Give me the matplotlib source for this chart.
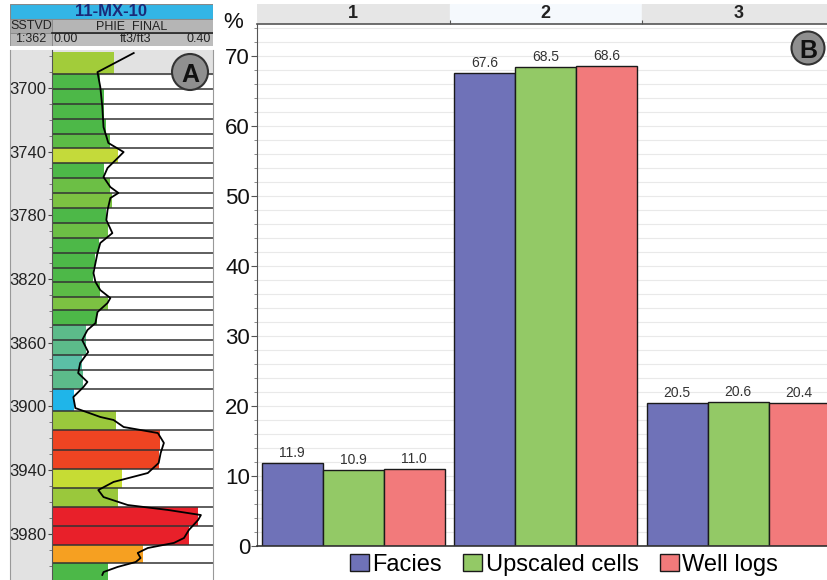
import numpy as np
import matplotlib
matplotlib.use("Agg")
import matplotlib.pyplot as plt
from matplotlib.patches import Rectangle, Ellipse
from matplotlib.ticker import MultipleLocator

plt.rcParams['font.family'] = ['Liberation Sans', 'DejaVu Sans']

# ---- well log (panel A) ----
well_name = "11-MX-10"
curve_name = "PHIE_FINAL"
depth_scale = "1:362"
phi_min, phi_max = 0.0, 0.40

# layer boundaries (ft, SSTVD) and upscaled porosity per layer
layer_tops = [3677.4, 3691.2, 3700.6, 3710.0, 3719.5, 3728.9, 3737.7, 3747.1,
              3756.5, 3765.9, 3775.4, 3784.8, 3794.2, 3803.6, 3813.0, 3821.8,
              3831.3, 3839.4, 3848.8, 3858.3, 3867.7, 3877.1, 3889.0, 3903.0,
              3914.8, 3927.3, 3939.3, 3951.2, 3963.1, 3975.1, 3987.0, 3998.3]
layer_base = 4009.0
layer_phi = [0.155, 0.120, 0.128, 0.130, 0.135, 0.145, 0.163, 0.128,
             0.145, 0.148, 0.133, 0.138, 0.118, 0.108, 0.103, 0.120,
             0.138, 0.113, 0.085, 0.085, 0.075, 0.078, 0.055, 0.158,
             0.268, 0.265, 0.175, 0.163, 0.363, 0.340, 0.225, 0.138]
layer_colors = ['#a2cc3a', '#4db848', '#4db848', '#4db848', '#4db848', '#5cbb46',
                '#c4da3a', '#4db848', '#6cbf45', '#7cc242', '#4db848', '#6cbf45',
                '#4db848', '#4db848', '#4db848', '#5cbb46', '#7cc242', '#4db848',
                '#5cbb8a', '#5cbb8a', '#5bbfa6', '#5cbb8a', '#1fb5e9', '#9ac83c',
                '#ee4422', '#ee4422', '#c6dc34', '#9ac83c', '#e8202a', '#e8202a',
                '#f6a021', '#4cb848']

# PHIE_FINAL log curve
log_depth = [3678.0, 3690.0, 3699.4, 3711.9, 3724.5, 3734.5, 3740.2, 3744.0,
             3750.2, 3755.9, 3762.2, 3765.9, 3769.1, 3776.6, 3782.9, 3791.1,
             3797.3, 3803.6, 3816.2, 3821.8, 3826.9, 3831.9, 3835.0, 3840.7,
             3847.6, 3852.0, 3858.3, 3865.8, 3872.7, 3879.0, 3884.6, 3887.8,
             3894.1, 3901.0, 3906.6, 3908.5, 3912.9, 3916.7, 3922.9, 3929.2,
             3935.5, 3941.8, 3947.4, 3952.5, 3956.9, 3961.9, 3965.0, 3968.2,
             3971.3, 3977.6, 3982.6, 3985.7, 3988.9, 3992.0, 3995.2, 3997.7,
             4000.8, 4004.0, 4005.8]
log_phi = [0.203, 0.113, 0.120, 0.125, 0.128, 0.140, 0.178, 0.163,
           0.138, 0.128, 0.145, 0.165, 0.145, 0.138, 0.135, 0.150,
           0.120, 0.113, 0.103, 0.108, 0.120, 0.145, 0.138, 0.113,
           0.108, 0.088, 0.075, 0.090, 0.070, 0.065, 0.088, 0.078,
           0.053, 0.058, 0.120, 0.153, 0.178, 0.263, 0.278, 0.270,
           0.265, 0.238, 0.153, 0.115, 0.128, 0.188, 0.288, 0.370,
           0.363, 0.340, 0.328, 0.303, 0.238, 0.213, 0.220, 0.208,
           0.163, 0.128, 0.125]

depth_labels = [3700, 3740, 3780, 3820, 3860, 3900, 3940, 3980]

# ---- facies proportions (panel B) ----
categories = ["1", "2", "3"]
facies = [11.9, 67.6, 20.5]
upscaled = [10.9, 68.5, 20.6]
well_logs = [11.0, 68.6, 20.4]
series_names = ["Facies", "Upscaled cells", "Well logs"]
series_colors = ['#6f72b8', '#93c966', '#f27a7b']

W, H = 827, 580
fig = plt.figure(figsize=(W / 100, H / 100), dpi=100)


def box(x0, y0, x1, y1):
    return [x0 / W, 1 - y1 / H, (x1 - x0) / W, (y1 - y0) / H]


# header of the log track
hdr = fig.add_axes(box(10, 4, 213, 46))
hdr.set_xlim(10, 213)
hdr.set_ylim(46, 4)
hdr.axis('off')
hdr.add_patch(Rectangle((10, 4), 203, 15, fc='#33b5e6', ec='#888', lw=0.8))
hdr.add_patch(Rectangle((10, 19), 42, 14, fc='#a9a9a9', ec='#888', lw=0.6))
hdr.add_patch(Rectangle((52, 19), 161, 14, fc='#b5b5b5', ec='#888', lw=0.6))
hdr.add_patch(Rectangle((10, 33), 42, 13, fc='#b8b8b8', ec='#888', lw=0.6))
hdr.add_patch(Rectangle((52, 33), 161, 13, fc='#bdbdbd', ec='#888', lw=0.6))
hdr.plot([52, 213], [33, 33], color='#222', lw=1.2)
hdr.text(111.5, 11.5, well_name, ha='center', va='center', fontsize=12,
         fontweight='bold', color='#1b2a78')
hdr.text(31, 26, "SSTVD", ha='center', va='center', fontsize=9, color='#222')
hdr.text(132, 26, curve_name, ha='center', va='center', fontsize=9, color='#222')
hdr.text(31, 39.5, depth_scale, ha='center', va='center', fontsize=9, color='#222')
hdr.text(54, 39.5, f"{phi_min:.2f}", ha='left', va='center', fontsize=9, color='#222')
hdr.text(136, 39.5, "ft3/ft3", ha='center', va='center', fontsize=9, color='#222')
hdr.text(211, 39.5, f"{phi_max:.2f}", ha='right', va='center', fontsize=9, color='#222')

# depth column
dax = fig.add_axes(box(10, 50, 52, 580))
dax.set_facecolor('#e2e2e2')
dax.set_xticks([])
dax.set_yticks([])
for s in dax.spines.values():
    s.set_visible(False)
dax.spines['left'].set_visible(True)
dax.spines['left'].set_color('#999')

# log track
tax = fig.add_axes(box(52, 50, 213, 580))
tops = np.array(layer_tops)
bases = np.append(tops[1:], layer_base)
tax.set_xlim(phi_min, phi_max)
tax.set_ylim(layer_base, 3676.1)
tax.axhspan(3676.1, tops[1], color='#e2e2e2', zorder=0)
tax.barh((tops + bases) / 2, layer_phi, height=bases - tops, left=0,
         color=layer_colors, edgecolor='none', zorder=1)
for d in tops[1:]:
    tax.axhline(d, color='#333', lw=1.1, zorder=2)
tax.plot(log_phi, log_depth, color='black', lw=1.3, zorder=3)
tax.set_xticks([])
tax.set_yticks(depth_labels)
tax.yaxis.set_minor_locator(MultipleLocator(10))
tax.tick_params(axis='y', which='major', labelsize=12, length=3, pad=1,
                color='#444', labelcolor='#222')
tax.tick_params(axis='y', which='minor', length=2, color='#666')
for s in ['top', 'bottom']:
    tax.spines[s].set_visible(False)
tax.spines['left'].set_color('#555')
tax.spines['right'].set_color('#999')

# bar chart
x = np.arange(len(categories))
bw = 61 / 192.5
bax = fig.add_axes(box(257, 24, 834.5, 546))
bars = []
for i, (vals, col) in enumerate(zip([facies, upscaled, well_logs], series_colors)):
    b = bax.bar(x + (i - 1) * bw, vals, width=bw, color=col, edgecolor='#1a1a1a',
                lw=1.0, label=series_names[i], zorder=2)
    bax.bar_label(b, fmt='%.1f', padding=2, fontsize=10, color='#333')
    bars.append(b)
bax.set_xlim(-0.5, 2.5)
bax.set_ylim(0, 74.6)
bax.set_xticks([])
bax.yaxis.set_major_locator(MultipleLocator(10))
bax.yaxis.set_minor_locator(MultipleLocator(2))
bax.grid(which='both', axis='y', color='#e9e9e9', lw=0.8, zorder=0)
bax.set_axisbelow(True)
bax.tick_params(axis='y', which='major', labelsize=16, length=4, pad=1,
                color='#555', labelcolor='#111')
bax.tick_params(axis='y', which='minor', length=2.5, color='#777')
bax.spines['top'].set_visible(False)
bax.spines['right'].set_visible(False)
bax.spines['left'].set_color('#555')
bax.spines['bottom'].set_color('#333')
bax.spines['bottom'].set_linewidth(1.2)

# category strip above the bars
sax = fig.add_axes(box(257, 4, 834.5, 24))
sax.set_xlim(-0.5, 2.5)
sax.set_ylim(0, 1)
strip_colors = ['#e6e6e6', '#f5f9fd', '#e6e6e6']
for xi, cat, sc in zip(x, categories, strip_colors):
    sax.axvspan(xi - 0.5, xi + 0.5, color=sc, zorder=0)
    sax.text(xi, 0.5, cat, ha='center', va='center', fontsize=13,
             fontweight='bold', color='#222')
sax.set_xticks(x[:-1] + 0.5)
sax.tick_params(axis='x', direction='in', length=3, labelbottom=False, color='#555')
sax.set_yticks([])
for s in ['top', 'left', 'right']:
    sax.spines[s].set_visible(False)
sax.spines['bottom'].set_color('#555')
sax.spines['bottom'].set_linewidth(1.2)

fig.text(233 / W, 1 - 22 / H, "%", ha='center', va='center', fontsize=16, color='#111')

fig.legend(handles=bars, labels=series_names, loc='center', ncol=3,
           bbox_to_anchor=(564 / W, 1 - 565 / H), frameon=False, fontsize=17,
           handlelength=0.8, handleheight=0.7, handletextpad=0.15,
           columnspacing=0.9, borderaxespad=0)

# panel markers
for cx, cy, r, letter in [(190, 72, 18, "A"), (808, 48, 16.5, "B")]:
    fig.add_artist(Ellipse((cx / W, 1 - cy / H), 2 * r / W, 2 * r / H,
                           transform=fig.transFigure, fc='#8f8f8f', ec='#333', lw=1.5))
    fig.text(cx / W, 1 - cy / H, letter, ha='center', va='center_baseline',
             fontsize=18, fontweight='bold', color='#111')

fig.savefig("out.png", dpi=100)
